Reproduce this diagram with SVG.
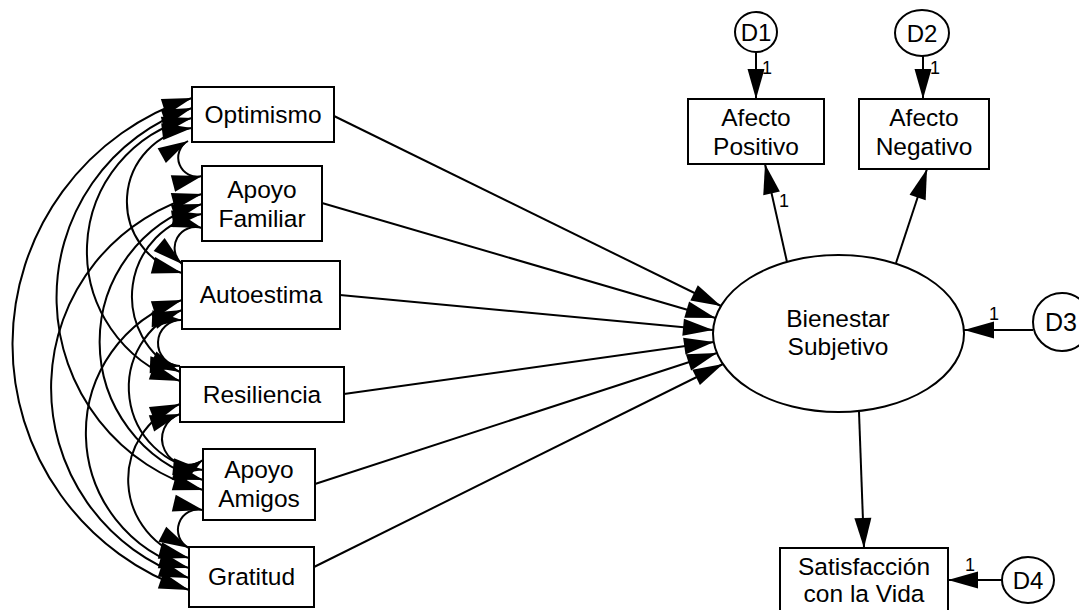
<svg xmlns="http://www.w3.org/2000/svg" width="1079" height="610" viewBox="0 0 1079 610">
  <defs>
    <marker id="arrow" markerUnits="userSpaceOnUse" markerWidth="30" markerHeight="17" refX="30" refY="8.5" orient="auto-start-reverse" overflow="visible">
      <path d="M0,0 L30,8.5 L0,17 z" fill="#000"/>
    </marker>
    <style>
      .box { fill: #fff; stroke: #000; stroke-width: 2; }
      .lat { fill: #fff; stroke: #000; stroke-width: 2; }
      .lbl { font-family: "Liberation Sans", Arial, sans-serif; font-size: 24.5px; fill: #000; text-anchor: middle; }
      .dl { font-family: "Liberation Sans", Arial, sans-serif; font-size: 24px; fill: #000; text-anchor: middle; }
      .one { font-family: "Liberation Sans", Arial, sans-serif; font-size: 18px; fill: #000; text-anchor: middle; }
      .edge { fill: none; stroke: #000; stroke-width: 2; marker-end: url(#arrow); }
      .cov { fill: none; stroke: #000; stroke-width: 2; marker-start: url(#arrow); marker-end: url(#arrow); }
    </style>
  </defs>
  <rect width="1079" height="610" fill="#fff"/>

  <!-- covariances between exogenous predictors -->
  <g id="covariances">
    <path class="cov" d="M192,98 A259,259 0 0 0 189,590"/>
    <path class="cov" d="M192,108 A200,200 0 0 0 203,490"/>
    <path class="cov" d="M202,194 A200,200 0 0 0 189,578"/>
    <path class="cov" d="M192,118 A137,137 0 0 0 180,381"/>
    <path class="cov" d="M202,204 A144,144 0 0 0 203,480"/>
    <path class="cov" d="M182,300 A140,140 0 0 0 189,568"/>
    <path class="cov" d="M192,128 A74,74 0 0 0 182,273"/>
    <path class="cov" d="M202,214 A83.5,83.5 0 0 0 180,372"/>
    <path class="cov" d="M182,310 A83,83 0 0 0 203,470"/>
    <path class="cov" d="M180,404 A81,81 0 0 0 189,558"/>
    <path class="cov" d="M188,141 A19,19 0 0 0 202,176"/>
    <path class="cov" d="M202,228 A21,21 0 0 0 182,264"/>
    <path class="cov" d="M182,320 A23,23 0 0 0 180,366"/>
    <path class="cov" d="M180,414 A26,26 0 1 0 203,460"/>
    <path class="cov" d="M203,510 A20.4,20.4 0 0 0 189,548"/>
  </g>

  <!-- regression paths and error terms -->
  <g id="paths">
    <line class="edge" x1="334" y1="116" x2="721" y2="306"/>
    <line class="edge" x1="322" y1="203" x2="715.5" y2="318"/>
    <line class="edge" x1="340" y1="295" x2="713" y2="330"/>
    <line class="edge" x1="344" y1="394" x2="714" y2="342"/>
    <line class="edge" x1="315" y1="484" x2="717" y2="353"/>
    <line class="edge" x1="314" y1="567" x2="723" y2="364"/>
    <line class="edge" x1="787" y1="262" x2="765" y2="164"/>
    <line class="edge" x1="896" y1="263" x2="927" y2="169"/>
    <line class="edge" x1="859" y1="412" x2="864" y2="548"/>
    <line class="edge" x1="756" y1="52" x2="756" y2="99"/>
    <line class="edge" x1="923" y1="56" x2="923" y2="99"/>
    <line class="edge" x1="1033" y1="330" x2="964" y2="330"/>
    <line class="edge" x1="1002" y1="580" x2="948" y2="580"/>
    <text class="one" x="784" y="207">1</text>
    <text class="one" x="767" y="74">1</text>
    <text class="one" x="935" y="74">1</text>
    <text class="one" x="994" y="320">1</text>
    <text class="one" x="970" y="571">1</text>
  </g>

  <g id="optimismo">
    <rect class="box" x="192" y="87" width="142" height="55"/>
    <text class="lbl" x="263" y="123">Optimismo</text>
  </g>
  <g id="apoyo-familiar">
    <rect class="box" x="202" y="166" width="120" height="75"/>
    <text class="lbl" x="262" y="198">Apoyo</text>
    <text class="lbl" x="262" y="227">Familiar</text>
  </g>
  <g id="autoestima">
    <rect class="box" x="182" y="261" width="158" height="68"/>
    <text class="lbl" x="261" y="303">Autoestima</text>
  </g>
  <g id="resiliencia">
    <rect class="box" x="180" y="367" width="164" height="55"/>
    <text class="lbl" x="262" y="403">Resiliencia</text>
  </g>
  <g id="apoyo-amigos">
    <rect class="box" x="203" y="449" width="112" height="71"/>
    <text class="lbl" x="259" y="478">Apoyo</text>
    <text class="lbl" x="259" y="507">Amigos</text>
  </g>
  <g id="gratitud">
    <rect class="box" x="189" y="547" width="125" height="60"/>
    <text class="lbl" x="251.5" y="585">Gratitud</text>
  </g>

  <g id="bienestar">
    <ellipse class="lat" cx="838.5" cy="333.5" rx="125.5" ry="78.5"/>
    <text class="lbl" x="838" y="327">Bienestar</text>
    <text class="lbl" x="838" y="355">Subjetivo</text>
  </g>
  <g id="afecto-positivo">
    <rect class="box" x="688" y="99" width="136" height="65"/>
    <text class="lbl" x="756" y="126">Afecto</text>
    <text class="lbl" x="756" y="155">Positivo</text>
  </g>
  <g id="afecto-negativo">
    <rect class="box" x="859" y="99" width="130" height="70"/>
    <text class="lbl" x="924" y="126">Afecto</text>
    <text class="lbl" x="924" y="155">Negativo</text>
  </g>
  <g id="satisfaccion">
    <rect class="box" x="780" y="548" width="168" height="70"/>
    <text class="lbl" x="864" y="575">Satisfacción</text>
    <text class="lbl" x="864" y="602">con la Vida</text>
  </g>

  <g id="d1">
    <ellipse class="lat" cx="756" cy="32" rx="21" ry="20"/>
    <text class="dl" x="756" y="41">D1</text>
  </g>
  <g id="d2">
    <ellipse class="lat" cx="922" cy="33" rx="27" ry="23"/>
    <text class="dl" x="922" y="42">D2</text>
  </g>
  <g id="d3">
    <ellipse class="lat" cx="1062" cy="322" rx="29" ry="29"/>
    <text class="dl" x="1061" y="331" style="font-size:25px">D3</text>
  </g>
  <g id="d4">
    <ellipse class="lat" cx="1028" cy="580" rx="26" ry="23"/>
    <text class="dl" x="1028" y="589">D4</text>
  </g>
</svg>
